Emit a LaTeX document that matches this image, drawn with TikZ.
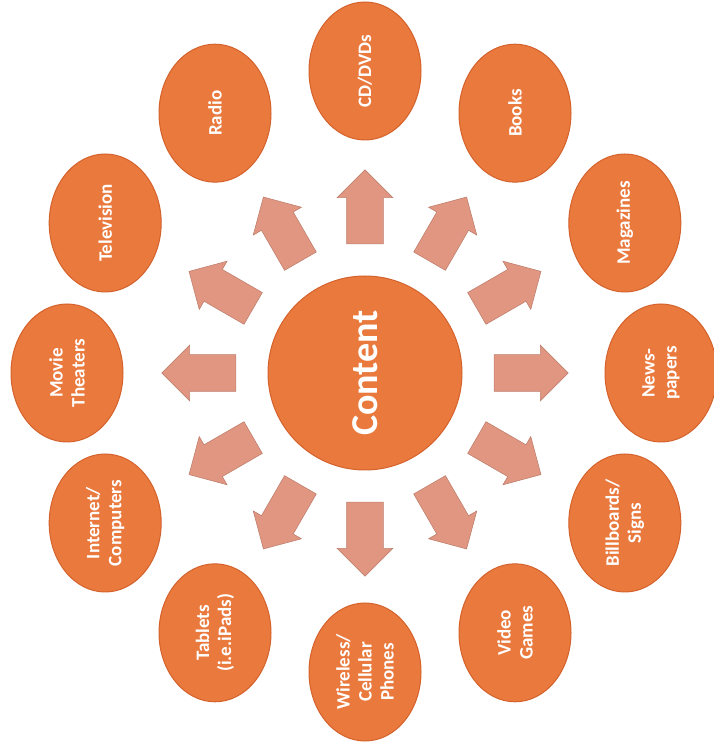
\documentclass[tikz,border=0pt]{standalone}
\usepackage{fontspec}
\setmainfont{Carlito}
\usetikzlibrary{shapes.geometric,shapes.arrows,calc}
\definecolor{blobfill}{RGB}{234,121,61}
\definecolor{blobedge}{RGB}{212,98,44}
\definecolor{arrowfill}{RGB}{225,150,130}
\tikzset{
  medium/.style={ellipse, fill=blobfill, draw=blobedge, line width=1pt, rotate=90,
    minimum width=138pt, minimum height=112pt, inner sep=0pt, align=center,
    text=white, font=\fontsize{19}{22}\selectfont\bfseries},
  outarrow/.style={single arrow, fill=arrowfill, draw=arrowfill!85!black, line width=0.6pt,
    minimum height=74pt, minimum width=0pt, inner xsep=0pt, inner ysep=18pt,
    single arrow head extend=9.5pt, single arrow tip angle=90}
}

\begin{document}
\begin{tikzpicture}[x=1pt,y=1pt]
\useasboundingbox (0,0) rectangle (713,747);
\coordinate (c) at (365,374);

\node[circle, fill=blobfill, draw=blobedge, line width=1pt, minimum size=194pt, rotate=90,
  text=white, font=\fontsize{38}{40}\selectfont\bfseries] (content) at (c) {Content};

% arrows
\node[outarrow, rotate=90] (a-cd) at ($(c)+(90:157)$) {};
\node[outarrow, rotate=60] (a-books) at ($(c)+(60:157)$) {};
\node[outarrow, rotate=30] (a-mag) at ($(c)+(30:157)$) {};
\node[outarrow, rotate=0] (a-news) at ($(c)+(0:157)$) {};
\node[outarrow, rotate=-30] (a-bill) at ($(c)+(-30:157)$) {};
\node[outarrow, rotate=-60] (a-games) at ($(c)+(-60:157)$) {};
\node[outarrow, rotate=-90] (a-phones) at ($(c)+(-90:157)$) {};
\node[outarrow, rotate=-120] (a-tablets) at ($(c)+(-120:157)$) {};
\node[outarrow, rotate=-150] (a-net) at ($(c)+(-150:157)$) {};
\node[outarrow, rotate=180] (a-movies) at ($(c)+(180:157)$) {};
\node[outarrow, rotate=150] (a-tv) at ($(c)+(150:157)$) {};
\node[outarrow, rotate=120] (a-radio) at ($(c)+(120:157)$) {};

% media
\node[medium] (cd) at ($(c)+(90:302)$) {CD/DVDs};
\node[medium] (books) at ($(c)+(60:300)$) {Books};
\node[medium] (mag) at ($(c)+(30:300)$) {Magazines};
\node[medium] (news) at ($(c)+(0:296)$) {News-\\papers};
\node[medium] (bill) at ($(c)+(-30:300)$) {Billboards/\\Signs};
\node[medium] (games) at ($(c)+(-60:300)$) {Video\\Games};
\node[medium] (phones) at ($(c)+(-90:299)$) {Wireless/\\Cellular\\Phones};
\node[medium] (tablets) at ($(c)+(-120:300)$) {Tablets\\(i.e.iPads)};
\node[medium] (net) at ($(c)+(-150:300)$) {Internet/\\Computers};
\node[medium] (movies) at ($(c)+(180:298)$) {Movie\\Theaters};
\node[medium] (tv) at ($(c)+(150:300)$) {Television};
\node[medium] (radio) at ($(c)+(120:300)$) {Radio};
\end{tikzpicture}
\end{document}
